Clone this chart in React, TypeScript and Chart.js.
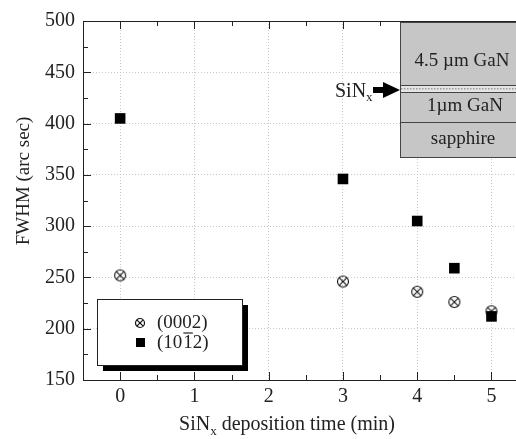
import { useEffect, useRef } from "react";
import { Chart, registerables } from "chart.js";

Chart.register(...registerables);

// ---- data ----
const depositionTimes = [0, 3, 4, 4.5, 5];
const fwhm0002 = [252, 246, 236, 226, 217];
const fwhm1012 = [405, 346, 305, 259, 212];
const xMajorTicks = [0, 1, 2, 3, 4, 5];
const xMinorTicks = [-0.5, 0.5, 1.5, 2.5, 3.5, 4.5];
const yMajorTicks = [150, 200, 250, 300, 350, 400, 450, 500];
const yMinorTicks = [175, 225, 275, 325, 375, 425, 475];
const insetLayers = ["4.5 µm GaN", "1µm GaN", "sapphire"];
const legendLabels = ["(0002)", "(10", "1", "2)"];

const FONT = "'Liberation Serif', 'Times New Roman', serif";
const INK = "#222";

function makeCrossCircle(size: number, r: number, lw: number) {
  const c = document.createElement("canvas");
  c.width = size;
  c.height = size;
  const g = c.getContext("2d")!;
  const m = size / 2;
  g.strokeStyle = "#111";
  g.lineWidth = lw;
  g.beginPath();
  g.arc(m, m, r, 0, Math.PI * 2);
  g.stroke();
  const d = r * Math.SQRT1_2;
  g.beginPath();
  g.moveTo(m - d, m - d);
  g.lineTo(m + d, m + d);
  g.moveTo(m + d, m - d);
  g.lineTo(m - d, m + d);
  g.stroke();
  return c;
}

const decorPlugin = {
  id: "decor",
  afterDraw(chart: any) {
    const { ctx, chartArea: ca, scales } = chart;
    const x = scales.x;
    const y = scales.y;
    ctx.save();
    ctx.strokeStyle = INK;
    ctx.lineWidth = 1;
    const line = (x1: number, y1: number, x2: number, y2: number) => {
      ctx.beginPath();
      ctx.moveTo(x1, y1);
      ctx.lineTo(x2, y2);
      ctx.stroke();
    };
    // top frame line
    line(ca.left, ca.top + 0.5, ca.right, ca.top + 0.5);
    // inward ticks
    const xt = (v: number, len: number) => {
      const px = Math.round(x.getPixelForValue(v)) + 0.5;
      if (px <= ca.left + 1 || px > ca.right) return;
      line(px, ca.bottom, px, ca.bottom - len);
      line(px, ca.top, px, ca.top + len);
    };
    xMajorTicks.forEach((v) => xt(v, 8));
    xMinorTicks.forEach((v) => xt(v, 5));
    const yt = (v: number, len: number) => {
      const py = Math.round(y.getPixelForValue(v)) + 0.5;
      line(ca.left, py, ca.left + len, py);
    };
    yMajorTicks.forEach((v) => yt(v, 8));
    yMinorTicks.forEach((v) => yt(v, 5));

    // axis titles
    ctx.fillStyle = INK;
    ctx.textBaseline = "alphabetic";
    const t1 = "SiN";
    const t2 = " deposition time (min)";
    ctx.font = `20px ${FONT}`;
    const w1 = ctx.measureText(t1).width;
    ctx.font = `13px ${FONT}`;
    const wx = ctx.measureText("x").width;
    ctx.font = `20px ${FONT}`;
    const w2 = ctx.measureText(t2).width;
    const total = w1 + wx + w2;
    const tx = 287 - total / 2;
    const ty = 430;
    ctx.textAlign = "left";
    ctx.fillText(t1, tx, ty);
    ctx.font = `13px ${FONT}`;
    ctx.fillText("x", tx + w1, ty + 5);
    ctx.font = `20px ${FONT}`;
    ctx.fillText(t2, tx + w1 + wx, ty);

    ctx.save();
    ctx.translate(24, 181);
    ctx.rotate(-Math.PI / 2);
    ctx.textAlign = "center";
    ctx.textBaseline = "middle";
    ctx.font = `19px ${FONT}`;
    ctx.fillText("FWHM (arc sec)", 0, 0);
    ctx.restore();

    // inset schematic
    const L = 400;
    const R = ca.right + 20;
    const T = ca.top + 1;
    const b1 = 85;
    const b2 = 92;
    const b3 = 122;
    const B = 157;
    ctx.fillStyle = "#c6c6c6";
    ctx.fillRect(L, T, R - L, B - T);
    ctx.fillStyle = "#e4e4e4";
    ctx.fillRect(L, b1, R - L, b2 - b1);
    ctx.fillStyle = "#9a9a9a";
    for (let px = L + 1; px < R; px += 3) {
      ctx.fillRect(px, b1 + 3, 1.5, 1.5);
    }
    ctx.strokeStyle = "#444";
    ctx.lineWidth = 1;
    ctx.strokeRect(L + 0.5, T + 0.5, R - L, B - T);
    line(L, b1 + 0.5, R, b1 + 0.5);
    line(L, b2 + 0.5, R, b2 + 0.5);
    line(L, b3 + 0.5, R, b3 + 0.5);
    ctx.fillStyle = INK;
    ctx.font = `19px ${FONT}`;
    ctx.textAlign = "center";
    ctx.textBaseline = "middle";
    ctx.fillText(insetLayers[0], 462, 61);
    ctx.fillText(insetLayers[1], 465, 106);
    ctx.fillText(insetLayers[2], 463, 139);
    // arrow
    ctx.fillStyle = "#000";
    ctx.fillRect(373, 87, 12, 6);
    ctx.beginPath();
    ctx.moveTo(383, 82);
    ctx.lineTo(400, 90);
    ctx.lineTo(383, 98);
    ctx.closePath();
    ctx.fill();
    ctx.fillStyle = INK;
    ctx.textAlign = "left";
    ctx.textBaseline = "alphabetic";
    ctx.font = `20px ${FONT}`;
    ctx.fillText("SiN", 335, 97);
    const ws = ctx.measureText("SiN").width;
    ctx.font = `13px ${FONT}`;
    ctx.fillText("x", 335 + ws, 101);

    // legend box
    const bx = 97, by = 299, bw = 145, bh = 66;
    ctx.fillStyle = "#000";
    ctx.fillRect(bx + 6, by + bh, bw, 6);
    ctx.fillRect(bx + bw, by + 6, 6, bh);
    ctx.fillStyle = "#fff";
    ctx.fillRect(bx, by, bw, bh);
    ctx.strokeStyle = INK;
    ctx.strokeRect(bx + 0.5, by + 0.5, bw, bh);
    const cc = makeCrossCircle(12, 4.5, 1.2);
    ctx.drawImage(cc, 140 - 6, 323 - 6);
    ctx.fillStyle = "#000";
    ctx.fillRect(136, 338, 9, 9);
    ctx.fillStyle = INK;
    ctx.font = `19px ${FONT}`;
    ctx.textAlign = "left";
    ctx.textBaseline = "middle";
    ctx.fillText(legendLabels[0], 157, 323);
    let lx = 157;
    const ly = 343;
    ctx.fillText(legendLabels[1], lx, ly);
    lx += ctx.measureText(legendLabels[1]).width;
    const w1b = ctx.measureText(legendLabels[2]).width;
    ctx.fillText(legendLabels[2], lx + 1, ly);
    ctx.strokeStyle = INK;
    ctx.lineWidth = 1.2;
    line(lx + 1, ly - 10, lx + 1 + w1b, ly - 10);
    ctx.fillText(legendLabels[3], lx + 1 + w1b, ly);
    ctx.restore();
  },
};

export default function App() {
  const ref = useRef<HTMLCanvasElement | null>(null);
  useEffect(() => {
    if (!ref.current) return;
    const crossCircle = makeCrossCircle(14, 5.5, 1.1);
    const chart = new Chart(ref.current, {
      type: "scatter",
      data: {
        datasets: [
          {
            label: "(0002)",
            data: depositionTimes.map((t, i) => ({ x: t, y: fwhm0002[i] })),
            pointStyle: crossCircle as any,
            pointRadius: 6,
            order: 1,
          },
          {
            label: "(10-12)",
            data: depositionTimes.map((t, i) => ({ x: t, y: fwhm1012[i] })),
            pointStyle: "rect",
            pointRadius: 7.5,
            backgroundColor: "#000",
            borderColor: "#000",
            borderWidth: 0,
            order: 0,
          },
        ],
      },
      options: {
        animation: false,
        responsive: false,
        layout: { autoPadding: false, padding: { top: 21, left: 0, right: 0, bottom: 0 } },
        plugins: { legend: { display: false }, tooltip: { enabled: false } },
        scales: {
          x: {
            type: "linear",
            min: -0.5,
            max: 5.33,
            afterFit: (s: any) => {
              s.height = 59;
              s.paddingLeft = 0;
              s.paddingRight = 0;
            },
            ticks: {
              stepSize: 1,
              includeBounds: false,
              color: INK,
              font: { family: FONT, size: 20 },
              padding: 5,
            },
            grid: { color: "#c8c8c8", lineWidth: 1, drawTicks: false },
            border: { color: INK, width: 1, dash: [1, 2] },
          },
          y: {
            type: "linear",
            min: 150,
            max: 500,
            afterFit: (s: any) => {
              s.width = 83;
              s.paddingTop = 0;
              s.paddingBottom = 0;
            },
            ticks: {
              stepSize: 50,
              color: INK,
              font: { family: FONT, size: 20 },
              padding: 8,
            },
            grid: { color: "#c8c8c8", lineWidth: 1, drawTicks: false },
            border: { color: INK, width: 1, dash: [1, 2] },
          },
        },
      },
      plugins: [decorPlugin],
    });
    return () => chart.destroy();
  }, []);
  return (
    <div style={{ position: "absolute", left: 0, top: 0, width: 516, height: 439, background: "#fff" }}>
      <canvas ref={ref} width={516} height={439} style={{ display: "block" }} />
    </div>
  );
}
